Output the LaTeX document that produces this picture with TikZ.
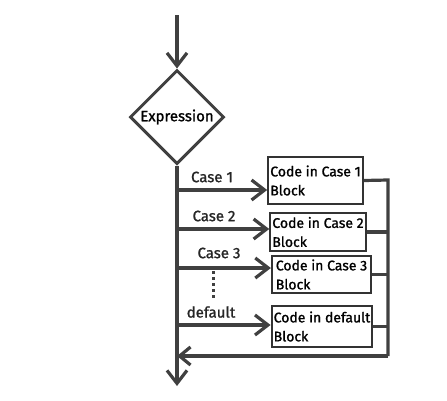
\documentclass[tikz,border=0pt]{standalone}
\usepackage{fontspec}
\setmainfont{Fira Sans}[FakeBold=1.2]
\usetikzlibrary{arrows.meta,shapes.geometric}
\tikzset{
  flow/.style={line width=3.2pt, draw=black!75, -{Straight Barb[length=13pt,width=20pt]}},
  bus/.style={line width=3.2pt, draw=black!75},
  decision/.style={diamond, draw=black!75, line width=3pt, minimum width=94pt, minimum height=94pt, inner sep=0pt, font=\fontsize{15}{17}\selectfont},
  codebox/.style={draw=black!80, line width=2.2pt, align=left, font=\fontsize{14}{19}\selectfont, inner sep=2pt},
  lbl/.style={font=\fontsize{15}{17}\selectfont, inner sep=0pt, text=black!85}
}
\begin{document}
\begin{tikzpicture}[x=1pt,y=-1pt]
			\useasboundingbox (0,0) rectangle (447,400);
			\node[decision] (expr) at (177,117) {Expression};
			\coordinate (start) at (177,15);
			\coordinate (out) at (177,386);
			\draw[flow] (start) -- (expr.north);
			\draw[flow] (expr.south) -- (out);
			\node[codebox, minimum width=93pt, minimum height=47pt] (c1) at (315.5,180.5) {Code in Case 1\\Block};
			\node[codebox, minimum width=94pt, minimum height=38pt] (c2) at (318,232) {Code in Case 2\\Block};
			\node[codebox, minimum width=99pt, minimum height=37pt] (c3) at (321.5,274.5) {Code in Case 3\\Block};
			\node[codebox, minimum width=100pt, minimum height=41pt] (c4) at (322,326.5) {Code in default\\Block};
			\coordinate (b1) at (177,190);
			\coordinate (b2) at (177,229);
			\coordinate (b3) at (177,268);
			\coordinate (b4) at (177,325);
			\draw[flow] (b1) -- (b1 -| c1.west);
			\draw[flow] (b2) -- (b2 -| c2.west);
			\draw[flow] (b3) -- (b3 -| c3.west);
			\draw[flow] (b4) -- (b4 -| c4.west);
			\node[lbl] (l1) at (212,177) {Case 1};
			\node[lbl] (l2) at (214,216) {Case 2};
			\node[lbl] (l3) at (219,253) {Case 3};
			\node[lbl] (l4) at (211,312) {default};
			\coordinate (d1) at (213,271);
			\coordinate (d2) at (213,300);
			\draw[bus, line width=3pt, dash pattern=on 3pt off 3pt] (d1) -- (d2);
			\coordinate (rtop) at (388,180);
			\coordinate (rbot) at (388,356);
			\coordinate (back) at (177,356);
			\draw[bus] (c1.east) -- (rtop) -- (rbot);
			\draw[bus] (c2.east) -- (c2.east -| rtop);
			\draw[bus] (c3.east) -- (c3.east -| rtop);
			\draw[bus] (c4.east) -- (c4.east -| rtop);
			\draw[flow, -{Straight Barb[length=11pt,width=18pt]}] (rbot) -- (back);
		\end{tikzpicture}
\end{document}
